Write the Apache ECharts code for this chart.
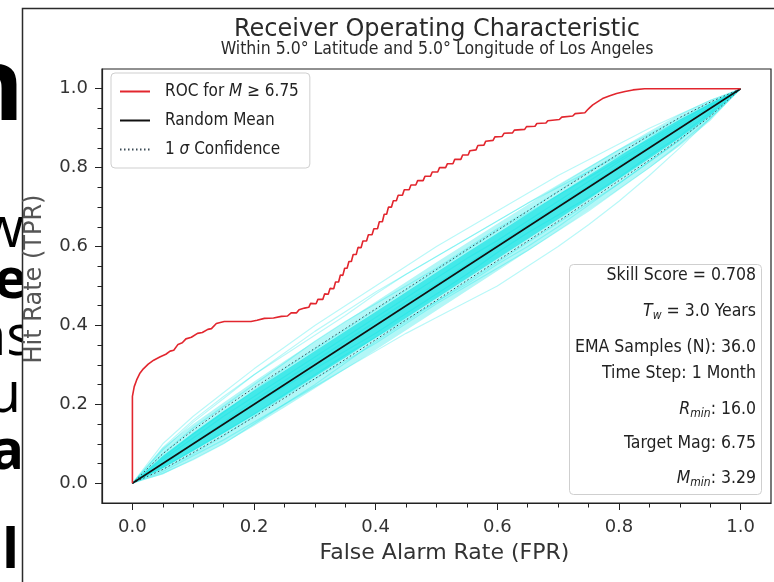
<!DOCTYPE html>
<html><head><meta charset="utf-8">
<script src="https://cdn.jsdelivr.net/npm/echarts@6/dist/echarts.min.js"></script>
<style>html,body{margin:0;padding:0;background:#fff}#c{width:774px;height:582px}</style>
</head><body><div id="c"></div>
<script>
// ---------------- data ----------------
const titleText = 'Receiver Operating Characteristic';
const subtitleText = 'Within 5.0\u00b0 Latitude and 5.0\u00b0 Longitude of Los Angeles';
const xName = 'False Alarm Rate (FPR)';
const yName = 'Hit Rate (TPR)';
const xTicks = [0, 0.2, 0.4, 0.6, 0.8, 1.0];
const xMinorTicks = [0.05,0.1,0.15,0.25,0.3,0.35,0.45,0.5,0.55,0.65,0.7,0.75,0.85,0.9,0.95];
const yTicks = [0, 0.2, 0.4, 0.6, 0.8, 1.0];
const yMinorTicks = [0.05,0.1,0.15,0.25,0.3,0.35,0.45,0.5,0.55,0.65,0.7,0.75,0.85,0.9,0.95];
const legendNames = ['ROC for M \u2265 6.75', 'Random Mean', '1 \u03c3 Confidence'];
const infoLines = [
  '{n|Skill Score = 0.708}',
  '{i|T}{s|w}{n| = 3.0 Years}',
  '{n|EMA Samples (N): 36.0}',
  '{n|Time Step: 1 Month}',
  '{i|R}{s|min}{n|: 16.0}',
  '{n|Target Mag: 6.75}',
  '{i|M}{s|min}{n|: 3.29}'
];
const slideLetters = ['n', 'w', 'e', 'as', 'u', 'a', 'l'];

const rocPoints = [
 [0,0],[0,0.22],[0.003,0.245],[0.007,0.262],[0.012,0.278],[0.018,0.29],[0.026,0.302],[0.035,0.312],
 [0.045,0.32],[0.055,0.327],[0.062,0.335],[0.068,0.337],[0.075,0.352],[0.082,0.356],[0.088,0.366],
 [0.097,0.37],[0.107,0.38],[0.115,0.382],[0.124,0.39],[0.13,0.392],[0.138,0.405],[0.151,0.41],
 [0.175,0.41],[0.195,0.41],[0.205,0.413],[0.217,0.418],[0.232,0.419],[0.245,0.423],[0.255,0.424],
 [0.261,0.432],[0.27,0.432],[0.274,0.44],[0.283,0.444],
 [0.29,0.446],[0.293,0.456],[0.302,0.455],[0.305,0.466],[0.313,0.466],[0.316,0.48],[0.322,0.479],
 [0.325,0.494],[0.331,0.493],[0.334,0.51],[0.339,0.51],[0.342,0.528],[0.346,0.527],[0.349,0.545],
 [0.353,0.545],[0.356,0.562],[0.36,0.562],[0.363,0.58],[0.368,0.58],[0.371,0.598],[0.376,0.597],
 [0.379,0.614],[0.385,0.614],[0.388,0.63],[0.394,0.63],[0.397,0.645],[0.403,0.645],[0.406,0.663],
 [0.411,0.663],[0.414,0.682],[0.418,0.682],[0.421,0.7],[0.426,0.7],[0.429,0.716],[0.434,0.716],
 [0.437,0.73],[0.444,0.73],[0.447,0.744],[0.455,0.744],[0.458,0.756],[0.466,0.756],[0.469,0.767],
 [0.478,0.767],[0.481,0.778],[0.49,0.778],[0.493,0.789],[0.502,0.789],[0.505,0.8],[0.515,0.8],
 [0.518,0.81],[0.527,0.81],[0.53,0.821],[0.54,0.821],[0.543,0.832],[0.552,0.832],[0.555,0.843],
 [0.565,0.845],[0.568,0.856],[0.578,0.857],[0.581,0.867],[0.593,0.869],[0.596,0.878],[0.608,0.879],
 [0.611,0.887],[0.625,0.888],[0.628,0.895],[0.645,0.897],[0.648,0.904],[0.662,0.905],[0.665,0.912],
 [0.68,0.913],[0.683,0.919],[0.702,0.922],[0.706,0.928],[0.724,0.931],[0.728,0.937],[0.744,0.939],
 [0.748,0.946],[0.752,0.952],[0.757,0.959],[0.764,0.966],[0.773,0.975],[0.785,0.982],[0.796,0.988],
 [0.81,0.993],[0.823,0.997],[0.842,1],[1,1]
];
const meanFpr = [0, 1];
const meanTpr = [0, 1];

const fprGrid = [0,0.05,0.1,0.15,0.2,0.25,0.3,0.35,0.4,0.45,0.5,0.55,0.6,0.65,0.7,0.75,0.8,0.85,0.9,0.95,1];
const sigmaUpper = [0,0.075,0.135,0.19,0.242,0.292,0.342,0.392,0.442,0.492,0.542,0.592,0.641,0.69,0.739,0.787,0.835,0.882,0.927,0.966,1];
const sigmaLower = [0,0.035,0.078,0.122,0.168,0.216,0.265,0.314,0.364,0.414,0.464,0.514,0.564,0.614,0.664,0.715,0.767,0.819,0.872,0.93,1];
const coreUpper = [0,0.07,0.128,0.183,0.235,0.285,0.335,0.385,0.435,0.485,0.535,0.585,0.634,0.683,0.732,0.78,0.828,0.876,0.922,0.963,1];
const coreLower = [0,0.038,0.082,0.127,0.173,0.221,0.27,0.319,0.369,0.419,0.469,0.519,0.569,0.619,0.669,0.72,0.771,0.823,0.875,0.932,1];
const haloUpper = [0,0.09,0.15,0.205,0.258,0.31,0.36,0.41,0.46,0.51,0.56,0.609,0.658,0.706,0.754,0.801,0.847,0.892,0.935,0.972,1];
const haloLower = [0,0.022,0.06,0.1,0.145,0.192,0.24,0.289,0.338,0.388,0.438,0.488,0.538,0.589,0.64,0.692,0.745,0.799,0.855,0.918,1];
const randomCurves = [
 [0,0.1,0.17,0.23,0.29,0.345,0.4,0.45,0.5,0.55,0.6,0.645,0.69,0.735,0.78,0.82,0.86,0.9,0.935,0.97,1],
 [0,0.03,0.07,0.11,0.155,0.2,0.245,0.29,0.335,0.38,0.42,0.46,0.5,0.55,0.6,0.655,0.715,0.78,0.85,0.925,1],
 [0,0.075,0.14,0.195,0.25,0.305,0.36,0.41,0.455,0.5,0.545,0.595,0.645,0.69,0.74,0.79,0.835,0.88,0.92,0.96,1],
 [0,0.025,0.06,0.1,0.15,0.2,0.25,0.305,0.36,0.41,0.46,0.51,0.56,0.61,0.66,0.71,0.76,0.815,0.87,0.93,1],
 [0,0.085,0.155,0.215,0.275,0.325,0.375,0.425,0.48,0.53,0.575,0.62,0.665,0.71,0.755,0.8,0.845,0.885,0.925,0.965,1],
 [0,0.045,0.1,0.15,0.2,0.245,0.29,0.335,0.38,0.43,0.48,0.53,0.585,0.635,0.68,0.725,0.775,0.83,0.88,0.94,1],
 [0,0.06,0.115,0.17,0.22,0.27,0.32,0.37,0.42,0.47,0.52,0.57,0.615,0.665,0.715,0.765,0.815,0.86,0.905,0.955,1],
 [0,0.035,0.075,0.12,0.17,0.22,0.265,0.31,0.355,0.405,0.455,0.5,0.545,0.59,0.64,0.69,0.745,0.8,0.86,0.925,1],
 [0,0.05,0.1,0.155,0.21,0.26,0.31,0.36,0.41,0.46,0.505,0.555,0.605,0.655,0.705,0.755,0.805,0.855,0.9,0.95,1],
 [0,0.09,0.16,0.22,0.275,0.33,0.385,0.435,0.485,0.53,0.575,0.62,0.665,0.71,0.75,0.79,0.83,0.87,0.915,0.96,1],
 [0,0.04,0.085,0.13,0.175,0.225,0.275,0.325,0.37,0.415,0.46,0.505,0.555,0.6,0.65,0.705,0.76,0.815,0.87,0.935,1],
 [0,0.065,0.125,0.18,0.235,0.29,0.34,0.39,0.44,0.49,0.54,0.59,0.64,0.685,0.73,0.775,0.82,0.865,0.91,0.955,1]
];

// ---------------- build ----------------
const SANS = "'DejaVu Sans', sans-serif";
const COND = "'DejaVu Sans Condensed','Liberation Sans Narrow','DejaVu Sans',sans-serif";
const zip = (xs, ys) => xs.map((x, i) => [x, ys[i]]);

function bandSeries(upper, lower, fill) {
  return {
    type: 'custom', coordinateSystem: 'cartesian2d', silent: true, z: 1,
    data: [[0, 0]],
    renderItem: function (params, api) {
      const pts = [];
      for (let i = 0; i < fprGrid.length; i++) pts.push(api.coord([fprGrid[i], upper[i]]));
      for (let i = fprGrid.length - 1; i >= 0; i--) pts.push(api.coord([fprGrid[i], lower[i]]));
      return { type: 'polygon', shape: { points: pts }, style: { fill: fill } };
    }
  };
}

const series = [];
randomCurves.forEach(c => series.push({
  type: 'line', data: zip(fprGrid, c), symbol: 'none', silent: true, z: 1,
  lineStyle: { color: 'rgba(0,230,230,0.28)', width: 1.2 }
}));
series.push(bandSeries(haloUpper, haloLower, 'rgba(0,228,228,0.30)'));
series.push(bandSeries(coreUpper, coreLower, 'rgba(0,225,225,0.62)'));
const sigmaColor = '#3a4a55';
series.push({
  name: legendNames[2], type: 'line', data: zip(fprGrid, sigmaUpper), symbol: 'none', z: 3,
  itemStyle: { color: sigmaColor },
  lineStyle: { color: sigmaColor, width: 1, type: [1.5, 2.5] }
});
series.push({
  name: legendNames[2], type: 'line', data: zip(fprGrid, sigmaLower), symbol: 'none', z: 3,
  itemStyle: { color: sigmaColor },
  lineStyle: { color: sigmaColor, width: 1, type: [1.5, 2.5] }
});
series.push({
  name: legendNames[1], type: 'line', data: zip(meanFpr, meanTpr), symbol: 'none', z: 3,
  itemStyle: { color: '#111' },
  lineStyle: { color: '#111', width: 1.6 }
});
series.push({
  name: legendNames[0], type: 'line', data: rocPoints, symbol: 'none', z: 4,
  itemStyle: { color: '#e2262e' },
  lineStyle: { color: '#e2262e', width: 1.6 }
});

const axisBase = {
  type: 'value', min: -0.05, max: 1.05,
  splitLine: { show: false }
};

const infoY = [275, 311, 347, 373, 409, 443, 478];
const infoRich = {
  n: { fontFamily: COND, fontSize: 17.5, fill: '#222', color: '#222' },
  i: { fontFamily: COND, fontSize: 17.5, fontStyle: 'italic', fill: '#222', color: '#222' },
  s: { fontFamily: COND, fontSize: 12, fontStyle: 'italic', fill: '#222', color: '#222', padding: [10, 0, 0, 0] }
};

const letterLayout = [
  { x: 24, y: 92, size: 100, w: 'bold' },
  { x: 24, y: 231, size: 56, w: 'normal' },
  { x: 27, y: 282, size: 56, w: 'bold' },
  { x: 33, y: 339, size: 56, w: 'normal' },
  { x: 21, y: 396, size: 56, w: 'normal' },
  { x: 24, y: 453, size: 56, w: 'bold' },
  { x: 19, y: 552, size: 56, w: 'bold' }
];

const graphics = [];
letterLayout.forEach((L, k) => graphics.push({
  type: 'text', z: -2, silent: true,
  style: { x: L.x, y: L.y, text: slideLetters[k], font: L.w + ' ' + L.size + "px 'Open Sans', sans-serif",
    fill: '#000', align: 'right', verticalAlign: 'middle' }
}));
graphics.push({
  type: 'rect', z: -1, silent: true,
  shape: { x: 22.5, y: 8.5, width: 780, height: 600 },
  style: { fill: '#fff', stroke: '#2b2b2b', lineWidth: 1.5 }
});
graphics.push({
  type: 'text', z: 5, silent: true,
  style: { x: 437, y: 30, text: titleText, font: "24px 'DejaVu Sans', sans-serif", fill: '#2a2a2a', align: 'center', verticalAlign: 'middle' }
});
graphics.push({
  type: 'text', z: 5, silent: true,
  style: { x: 437, y: 49, text: subtitleText, font: "17.5px " + COND, fill: '#2a2a2a', align: 'center', verticalAlign: 'middle' }
});
graphics.push({
  type: 'rect', z: 10, silent: true,
  shape: { x: 569.5, y: 264.5, width: 192, height: 230, r: 4 },
  style: { fill: '#fff', stroke: '#cfcfcf', lineWidth: 1 }
});
infoLines.forEach((t, k) => graphics.push({
  type: 'text', z: 11, silent: true,
  style: { x: 756, y: infoY[k], text: t, rich: infoRich, align: 'right', verticalAlign: 'middle' }
}));

const legendRich = {
  g: { width: 10 },
  n: { fontFamily: COND, fontSize: 17, color: '#222' },
  i: { fontFamily: COND, fontSize: 17, fontStyle: 'italic', color: '#222' }
};

const option = {
  backgroundColor: '#fff',
  animation: false,
  grid: { left: 102, right: 3, top: 69, bottom: 79, show: true, borderColor: '#222', borderWidth: 1.2, backgroundColor: 'transparent' },
  xAxis: [
    Object.assign({}, axisBase, {
      position: 'bottom',
      name: xName, nameLocation: 'middle', nameGap: 39,
      nameTextStyle: { fontFamily: SANS, fontSize: 22, color: '#333', padding: [0, 0, 0, 16] },
      axisLine: { show: true, onZero: false, lineStyle: { color: '#222', width: 1.2 } },
      axisTick: { show: true, length: 7, customValues: xTicks, lineStyle: { color: '#222' } },
      axisLabel: { customValues: xTicks, margin: 15, fontFamily: SANS, fontSize: 18, color: '#333', formatter: v => v.toFixed(1) }
    }),
    Object.assign({}, axisBase, {
      position: 'bottom', offset: 0,
      axisLine: { show: false, onZero: false },
      axisTick: { show: true, length: 4.5, customValues: xMinorTicks, lineStyle: { color: '#222', width: 1 } },
      axisLabel: { show: false }
    })
  ],
  yAxis: [
    Object.assign({}, axisBase, {
      position: 'left',
      name: yName, nameLocation: 'middle', nameGap: 55,
      nameTextStyle: { fontFamily: SANS, fontSize: 24, color: '#555', padding: [0, 0, 0, 14] },
      axisLine: { show: true, onZero: false, lineStyle: { color: '#222', width: 1.2 } },
      axisTick: { show: true, length: 7, customValues: yTicks, lineStyle: { color: '#222' } },
      axisLabel: { customValues: yTicks, margin: 14, fontFamily: SANS, fontSize: 18, color: '#333', formatter: v => v.toFixed(1) }
    }),
    Object.assign({}, axisBase, {
      position: 'left', offset: 0,
      axisLine: { show: false, onZero: false },
      axisTick: { show: true, length: 4.5, customValues: yMinorTicks, lineStyle: { color: '#222', width: 1 } },
      axisLabel: { show: false }
    })
  ],
  legend: {
    data: legendNames, orient: 'vertical', left: 111, top: 73,
    backgroundColor: '#fff', borderColor: '#cfcfcf', borderWidth: 1, borderRadius: 4,
    padding: [10, 11, 10, 8], itemWidth: 30, itemHeight: 14, itemGap: 12,
    itemStyle: { opacity: 0 },
    textStyle: { rich: legendRich },
    formatter: function (name) {
      if (name === legendNames[0]) return '{g|}{n|ROC for }{i|M}{n| \u2265 6.75}';
      if (name === legendNames[2]) return '{g|}{n|1 }{i|\u03c3}{n| Confidence}';
      return '{g|}{n|' + name + '}';
    },
    selectedMode: false
  },
  graphic: graphics,
  series: series
};

const chart = echarts.init(document.getElementById('c'), null, { renderer: 'canvas' });
chart.setOption(option);
</script>
</body></html>
